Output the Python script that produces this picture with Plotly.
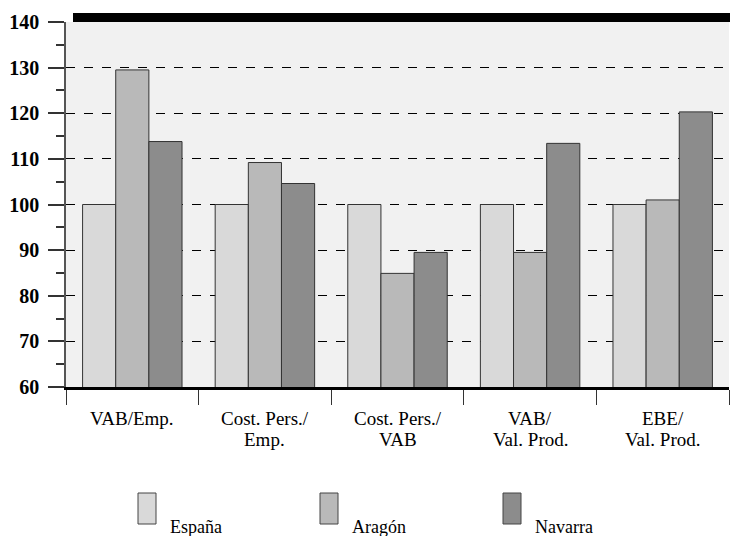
import plotly.graph_objects as go

cat_line1 = ["VAB/Emp.", "Cost. Pers./", "Cost. Pers./", "VAB/", "EBE/"]
cat_line2 = ["", "Emp.", "VAB", "Val. Prod.", "Val. Prod."]
categories = [a + ("<br>" + b if b else "") for a, b in zip(cat_line1, cat_line2)]
series_names = ["España", "Aragón", "Navarra"]
espana = [100, 100, 100, 100, 100]
aragon = [129.5, 109.2, 84.9, 89.5, 101.0]
navarra = [113.8, 104.6, 89.5, 113.4, 120.3]
colors = ["#d9d9d9", "#b9b9b9", "#8c8c8c"]
y_ticks = [60, 70, 80, 90, 100, 110, 120, 130, 140]

W, H = 730, 536
ML, MR, MT, MB = 66, 1, 22, 149
PW, PH = W - ML - MR, H - MT - MB

def px_x(px):
    return (px - ML) / PW

def px_y(py):
    return (H - MB - py) / PH

FONT = "Liberation Serif"

fig = go.Figure()
for name, vals, col in zip(series_names, [espana, aragon, navarra], colors):
    fig.add_trace(go.Bar(
        x=categories, y=vals, name=name,
        marker=dict(color=col, line=dict(color="#333333", width=1)),
        showlegend=False,
    ))

shapes = [
    dict(type="rect", xref="paper", yref="paper", x0=px_x(73), x1=1.002,
         y0=1.0, y1=px_y(13), fillcolor="black", line=dict(width=0), layer="above"),
]
annotations = []
for cat, l1, l2 in zip(categories, cat_line1, cat_line2):
    annotations.append(dict(xref="x", yref="paper", x=cat, y=px_y(418), text=l1,
                            showarrow=False, xanchor="center", yanchor="middle",
                            borderpad=0,
                            font=dict(family=FONT, size=19, color="black")))
    if l2:
        annotations.append(dict(xref="x", yref="paper", x=cat, y=px_y(439), text=l2,
                                showarrow=False, xanchor="center", yanchor="middle",
                                borderpad=0,
                                font=dict(family=FONT, size=19, color="black")))

legend_x = [138, 320, 503]
for name, col, lx in zip(series_names, colors, legend_x):
    shapes.append(dict(type="rect", xref="paper", yref="paper",
                       x0=px_x(lx), x1=px_x(lx + 18), y0=px_y(524), y1=px_y(493),
                       fillcolor=col, line=dict(color="#444444", width=1)))
    annotations.append(dict(xref="paper", yref="paper", x=px_x(lx + 30), y=px_y(527),
                            text=name, showarrow=False, xanchor="left", yanchor="middle",
                            font=dict(family=FONT, size=18, color="black")))

fig.update_layout(
    width=W, height=H,
    margin=dict(l=ML, r=MR, t=MT, b=MB, autoexpand=False),
    paper_bgcolor="white", plot_bgcolor="#f1f1f1",
    barmode="group", bargap=0.25, bargroupgap=0,
    shapes=shapes, annotations=annotations,
    font=dict(family=FONT, color="black"),
)
fig.update_xaxes(
    type="category", tickson="boundaries", ticks="outside", ticklen=15,
    tickcolor="#333333", tickwidth=1, showticklabels=False,
    showline=True, linecolor="black", linewidth=2.5,
    showgrid=False,
)
fig.update_yaxes(
    range=[60, 140], tickvals=y_ticks, ticks="outside", ticklen=16, tickcolor="#333333",
    tickwidth=1.5, showline=True, linecolor="#555555", linewidth=1.5,
    showgrid=True, gridcolor="black", griddash="dash", gridwidth=1,
    minor=dict(dtick=5, ticks="outside", ticklen=8, tickcolor="#333333", tickwidth=1.5, showgrid=False),
    tickfont=dict(family=FONT, size=20, color="black", weight="bold"),
    ticklabelstandoff=5, zeroline=False,
)
fig.write_html("out.html", config={"displayModeBar": False},
               post_script="document.body.style.margin='0';document.body.style.overflow='hidden';")
